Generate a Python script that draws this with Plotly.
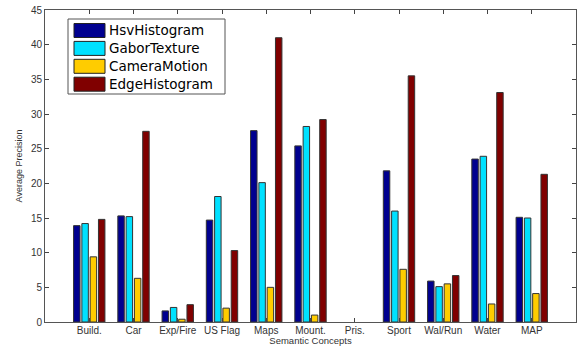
import plotly.graph_objects as go

categories = ["Build.", "Car", "Exp/Fire", "US Flag", "Maps", "Mount.", "Pris.",
              "Sport", "Wal/Run", "Water", "MAP"]
hsv_histogram = [13.9, 15.3, 1.6, 14.7, 27.6, 25.4, 0, 21.8, 5.9, 23.5, 15.1]
gabor_texture = [14.2, 15.2, 2.1, 18.1, 20.1, 28.2, 0, 16.0, 5.1, 23.9, 15.0]
camera_motion = [9.4, 6.3, 0.4, 2.0, 5.0, 1.0, 0, 7.6, 5.5, 2.6, 4.1]
edge_histogram = [14.8, 27.5, 2.5, 10.3, 41.0, 29.2, 0, 35.5, 6.7, 33.1, 21.3]
y_ticks = [0, 5, 10, 15, 20, 25, 30, 35, 40, 45]

series_names = ["HsvHistogram", "GaborTexture", "CameraMotion", "EdgeHistogram"]
series_values = [hsv_histogram, gabor_texture, camera_motion, edge_histogram]
series_colors = ["#00008F", "#00E1FF", "#FFCC00", "#800000"]

W, H = 577, 346
ML, MR, MT, MB = 45, 1, 10, 24
PW, PH = W - ML - MR, H - MT - MB


def px_x(px):
    return (px - ML) / PW


def px_y(py):
    return (H - MB - py) / PH


x_pos = list(range(1, len(categories) + 1))

fig = go.Figure()
for name, vals, col in zip(series_names, series_values, series_colors):
    fig.add_trace(go.Bar(
        x=x_pos, y=vals, name=name, showlegend=False,
        marker=dict(color=col,
                    line=dict(color="#333333",
                              width=[0 if v == 0 else 1 for v in vals])),
    ))

# legend box drawn in the upper left of the plot area
shapes = [dict(type="rect", xref="paper", yref="paper",
               x0=px_x(68), x1=px_x(225), y0=px_y(94), y1=px_y(19),
               line=dict(color="#555555", width=1), fillcolor="white", layer="above")]
annotations = []
for i, (name, col) in enumerate(zip(series_names, series_colors)):
    cy = 30.5 + 17.9 * i
    shapes.append(dict(type="rect", xref="paper", yref="paper",
                       x0=px_x(74), x1=px_x(105), y0=px_y(cy + 7), y1=px_y(cy - 7),
                       line=dict(color="#222222", width=1), fillcolor=col, layer="above"))
    annotations.append(dict(xref="paper", yref="paper", x=px_x(107), y=px_y(cy),
                            xanchor="left", yanchor="middle", showarrow=False,
                            text=name,
                            font=dict(family="DejaVu Sans, sans-serif", size=13.5,
                                      color="#000000")))

font_family = "Liberation Sans, Arial, sans-serif"
fig.update_layout(
    template="none",
    width=W, height=H,
    margin=dict(l=ML, r=MR, t=MT, b=MB, pad=0),
    paper_bgcolor="white", plot_bgcolor="white",
    barmode="group", bargap=0.25, bargroupgap=0.22,
    font=dict(family=font_family, size=10, color="#333333"),
    showlegend=False,
    shapes=shapes,
    annotations=annotations,
    xaxis=dict(
        automargin=False,
        range=[0, 12], tickmode="array", tickvals=x_pos, ticktext=categories,
        ticks="inside", ticklen=4, tickcolor="#444444",
        showline=True, linecolor="#555555", linewidth=1, mirror="ticks",
        showgrid=False, zeroline=False,
        ticklabelstandoff=-1,
        title=dict(text="Semantic Concepts", font=dict(size=9.5), standoff=1),
        tickfont=dict(size=10),
    ),
    yaxis=dict(
        automargin=False,
        range=[0, 45], tickmode="array", tickvals=y_ticks,
        ticks="inside", ticklen=4, tickcolor="#444444",
        showline=True, linecolor="#555555", linewidth=1, mirror="ticks",
        showgrid=False, zeroline=False,
        title=dict(text="Average Precision", font=dict(size=9), standoff=6),
        tickfont=dict(size=10),
    ),
)

fig.write_html("out.html", config={"displayModeBar": False},
               post_script="document.body.style.margin='0';")
